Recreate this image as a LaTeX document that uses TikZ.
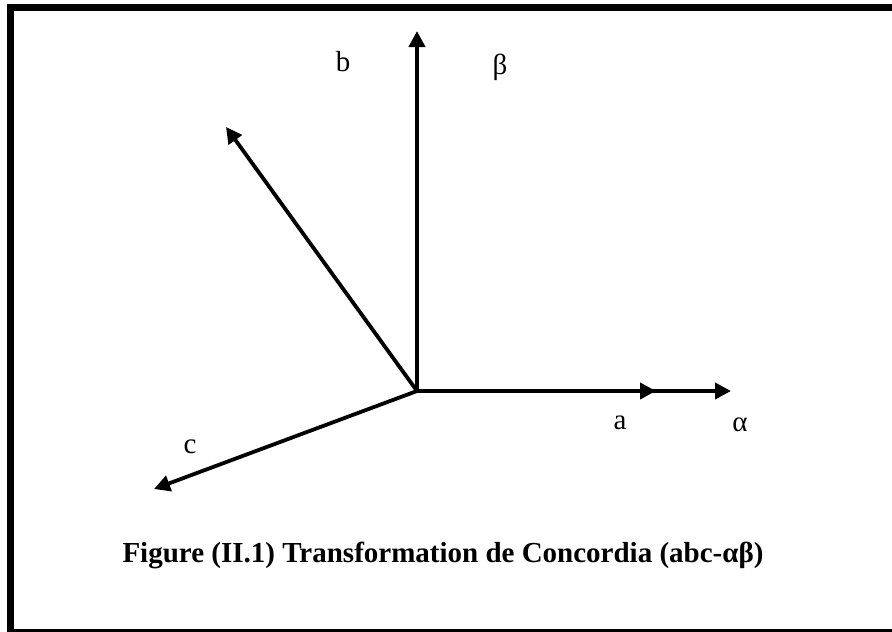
\documentclass[tikz,border=0pt]{standalone}
\usepackage{fontspec}
\setmainfont{Liberation Serif}
\usepackage{tikz}
\usetikzlibrary{arrows.meta, positioning}

\begin{document}
\begin{tikzpicture}[
    x=1pt, y=-1pt,
    axe/.style={-{Triangle[length=16pt, width=16pt]}, line width=3.8pt},
    lbl/.style={font=\fontsize{29}{32}\selectfont, inner sep=0pt},
    cadre/.style={draw, line width=7pt}
  ]
    \useasboundingbox (0,0) rectangle (892,632);
    \draw[cadre] (10.5,7.5) rectangle (900,632);

    % origin and axis ends
    \coordinate (O)     at (417,391);
    \coordinate (alpha) at (731,391);
    \coordinate (a)     at (656,391);
    \coordinate (beta)  at (417,31);
    \coordinate (b)     at (226,127);
    \coordinate (c)     at (154,489);

    \draw[axe] (O) -- (alpha);
    \draw[axe] (O) -- (a);
    \draw[axe] (O) -- (beta);
    \draw[axe] (O) -- (b);
    \draw[axe] (O) -- (c);

    \node[lbl] (la)     at (620,423) {a};
    \node[lbl] (lalpha) at (740,425) {α};
    \node[lbl] (lb)     at (343,62)  {b};
    \node[lbl] (lbeta)  at (500,67)  {β};
    \node[lbl] (lc)     at (190,447) {c};

    \node[font=\bfseries\fontsize{29}{32}\selectfont, inner sep=0pt] (titre) at (443,555)
      {Figure (II.1) Transformation de Concordia (abc-αβ)};
  \end{tikzpicture}
\end{document}
